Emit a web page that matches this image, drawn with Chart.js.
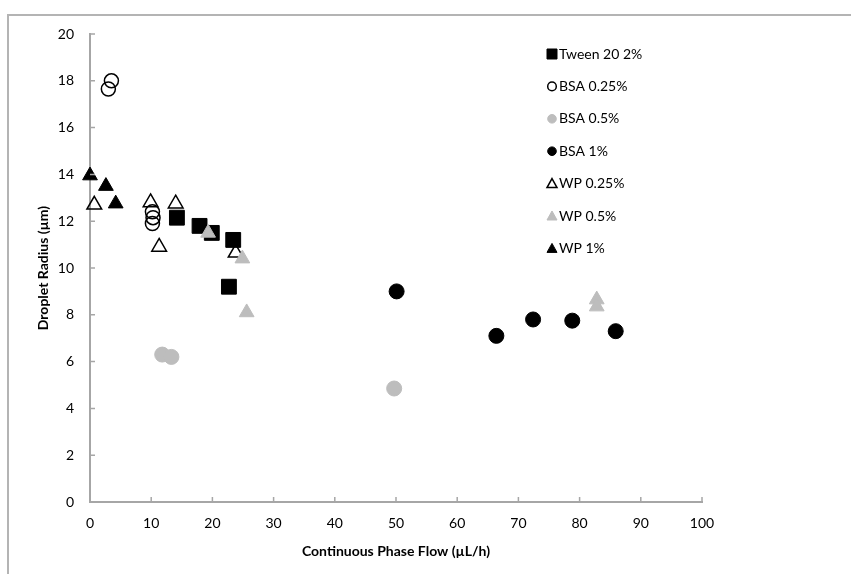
<!DOCTYPE html>
<html>
<head>
<meta charset="utf-8">
<script src="https://cdn.jsdelivr.net/npm/chart.js"></script>
<style>
  html, body { margin: 0; padding: 0; background: #fff; }
  #wrap { width: 851px; height: 574px; }
</style>
</head>
<body>
<div id="wrap"><canvas id="dropletChart" width="851" height="574"></canvas></div>
<script>
// values
const seriesNames = ['Tween 20 2%', 'BSA 0.25%', 'BSA 0.5%', 'BSA 1%', 'WP 0.25%', 'WP 0.5%', 'WP 1%'];

const tweenX = [14.2, 17.9, 19.9, 23.4, 22.7];
const tweenY = [12.15, 11.8, 11.5, 11.2, 9.2];

const bsa025X = [3.5, 3.0, 10.2, 10.3, 10.2];
const bsa025Y = [18.0, 17.65, 12.4, 12.15, 11.9];

const bsa05X = [11.8, 13.3, 49.7];
const bsa05Y = [6.3, 6.2, 4.85];

const bsa1X = [50.1, 66.4, 72.4, 78.8, 85.9];
const bsa1Y = [9.0, 7.1, 7.8, 7.75, 7.3];

const wp025X = [0.7, 9.9, 14.0, 11.3, 23.8];
const wp025Y = [12.7, 12.8, 12.75, 10.9, 10.65];

const wp05X = [19.3, 24.9, 25.6, 82.8, 82.8];
const wp05Y = [11.5, 10.4, 8.1, 8.65, 8.35];

const wp1X = [0, 2.6, 4.2];
const wp1Y = [13.95, 13.5, 12.75];

const xTicks = [0, 10, 20, 30, 40, 50, 60, 70, 80, 90, 100];
const yTicks = [0, 2, 4, 6, 8, 10, 12, 14, 16, 18, 20];

const GREY = '#bdbdbd';
const AXIS = '#a6a6a6';
const FONT = 'Lato, "Open Sans", sans-serif';

function pts(xs, ys) {
    return xs.map((x, i) => ({ x: x, y: ys[i] }));
}

// marker looks per series
const looks = [
    { style: 'rect', fill: '#000', stroke: '#000', r: 10.5, bw: 1 },
    { style: 'circle', fill: 'rgba(0,0,0,0)', stroke: '#000', r: 7, bw: 1.5 },
    { style: 'circle', fill: GREY, stroke: GREY, r: 7.5, bw: 1 },
    { style: 'circle', fill: '#000', stroke: '#000', r: 7.5, bw: 1 },
    { style: 'triangle', fill: 'rgba(0,0,0,0)', stroke: '#000', r: 8.5, bw: 1.5 },
    { style: 'triangle', fill: GREY, stroke: GREY, r: 8.5, bw: 1 },
    { style: 'triangle', fill: '#000', stroke: '#000', r: 8.5, bw: 1 }
];

const allData = [
    pts(tweenX, tweenY), pts(bsa025X, bsa025Y), pts(bsa05X, bsa05Y), pts(bsa1X, bsa1Y),
    pts(wp025X, wp025Y), pts(wp05X, wp05Y), pts(wp1X, wp1Y)
];

const datasets = seriesNames.map((name, i) => ({
    label: name,
    data: allData[i],
    pointStyle: looks[i].style,
    pointRadius: looks[i].r,
    pointHoverRadius: looks[i].r,
    backgroundColor: looks[i].fill,
    borderColor: looks[i].stroke,
    borderWidth: looks[i].bw,
    clip: false,
    order: seriesNames.length - i  // later series drawn on top, like excel
}));

// small marker for the legend
function legendMarker(ctx, look, x, y) {
    ctx.save();
    ctx.fillStyle = look.fill;
    ctx.strokeStyle = look.stroke;
    ctx.lineWidth = look.bw;
    ctx.beginPath();
    if (look.style === 'rect') {
        ctx.rect(x - 5, y - 5, 10, 10);
    } else if (look.style === 'circle') {
        ctx.arc(x, y, 4.3, 0, Math.PI * 2);
    } else {
        ctx.moveTo(x, y - 5);
        ctx.lineTo(x + 5, y + 4);
        ctx.lineTo(x - 5, y + 4);
        ctx.closePath();
    }
    ctx.fill();
    ctx.stroke();
    ctx.restore();
}

const extras = {
    id: 'extras',
    beforeDraw(chart) {
        const ctx = chart.ctx;
        ctx.save();
        ctx.fillStyle = '#fff';
        ctx.fillRect(0, 0, chart.width, chart.height);
        // outer frame (top and left edges only visible)
        ctx.strokeStyle = '#b4b4b4';
        ctx.lineWidth = 2;
        ctx.beginPath();
        ctx.moveTo(8, chart.height);
        ctx.lineTo(8, 15);
        ctx.lineTo(chart.width, 15);
        ctx.stroke();
        ctx.restore();
    },
    afterDraw(chart) {
        const ctx = chart.ctx;
        const xs = chart.scales.x, ys = chart.scales.y;
        ctx.save();
        ctx.strokeStyle = AXIS;
        ctx.lineWidth = 1.5;
        ctx.beginPath();
        xTicks.forEach(v => {
            const px = xs.getPixelForValue(v);
            ctx.moveTo(px, ys.bottom);
            ctx.lineTo(px, ys.bottom - 5);
        });
        yTicks.forEach(v => {
            const py = ys.getPixelForValue(v);
            ctx.moveTo(xs.left, py);
            ctx.lineTo(xs.left + 5, py);
        });
        ctx.stroke();

        // legend
        ctx.font = '14px ' + FONT;
        ctx.fillStyle = '#000';
        ctx.textBaseline = 'middle';
        ctx.textAlign = 'left';
        chart.data.datasets.forEach((ds, i) => {
            const y = 54 + i * 32.4;
            legendMarker(ctx, looks[i], 552, y);
            ctx.fillText(ds.label, 559, y);
        });
        ctx.restore();
    }
};

new Chart(document.getElementById('dropletChart'), {
    type: 'scatter',
    data: { datasets: datasets },
    plugins: [extras],
    options: {
        responsive: false,
        animation: false,
        layout: { padding: { top: 34, right: 149, left: 0, bottom: 0 } },
        plugins: { legend: { display: false }, tooltip: { enabled: false } },
        scales: {
            x: {
                type: 'linear',
                min: 0,
                max: 100,
                afterBuildTicks: (s) => { s.ticks = xTicks.map(v => ({ value: v })); },
                afterFit: (s) => { s.height = 72; },
                grid: { display: false, drawTicks: false },
                border: { display: true, color: AXIS, width: 2 },
                ticks: { padding: 13, color: '#000', font: { family: FONT, size: 14 } },
                title: {
                    display: true,
                    text: 'Continuous Phase Flow (µL/h)',
                    color: '#000',
                    font: { family: FONT, size: 14, weight: 'bold' },
                    padding: { top: 0, bottom: 14 }
                }
            },
            y: {
                type: 'linear',
                min: 0,
                max: 20,
                afterBuildTicks: (s) => { s.ticks = yTicks.map(v => ({ value: v })); },
                afterFit: (s) => { s.width = 90; },
                grid: { display: false, drawTicks: false },
                border: { display: true, color: AXIS, width: 2 },
                ticks: { padding: 16, color: '#000', font: { family: FONT, size: 14 } },
                title: {
                    display: true,
                    text: 'Droplet Radius (µm)',
                    color: '#000',
                    font: { family: FONT, size: 14, weight: 'bold' },
                    padding: { top: 35, bottom: 0 }
                }
            }
        }
    }
});
</script>
</body>
</html>
